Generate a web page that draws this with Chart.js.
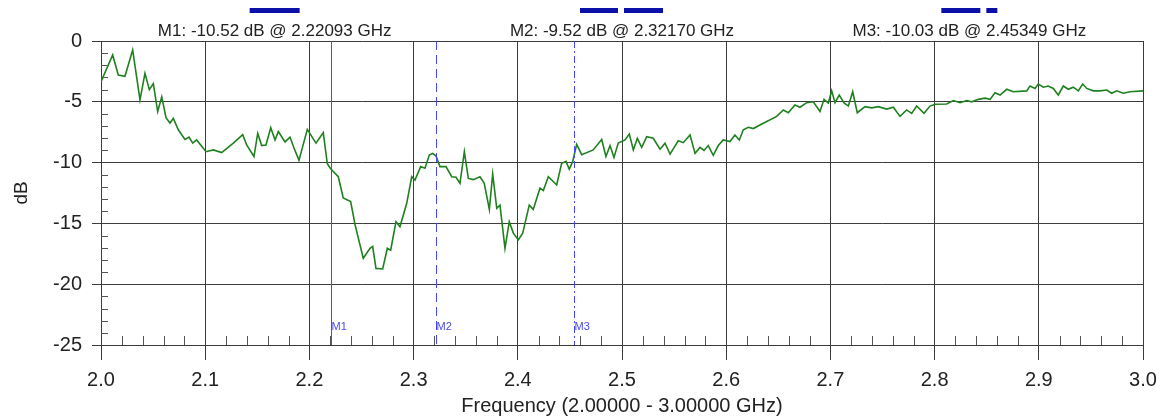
<!DOCTYPE html>
<html>
<head>
<meta charset="utf-8">
<script src="https://cdn.jsdelivr.net/npm/chart.js@4/dist/chart.umd.min.js"></script>
<style>
html,body{margin:0;padding:0;background:#fff;}
#wrap{width:1157px;height:418px;}
</style>
</head>
<body>
<div id="wrap"><canvas id="c" width="1157" height="418"></canvas></div>
<script>
// ---- data ----
const freqGHz = [2.000,2.0112,2.0166,2.0230,2.0304,2.0374,2.0422,2.0464,2.0502,2.0544,2.0583,2.0624,2.0662,2.0694,2.0742,2.0806,2.0845,2.0880,2.0918,2.1008,2.1078,2.1158,2.1270,2.1360,2.1398,2.1468,2.1504,2.1542,2.1583,2.1629,2.1670,2.1702,2.1766,2.1814,2.1852,2.1900,2.1980,2.2063,2.2133,2.2172,2.2204,2.2277,2.2325,2.2396,2.2438,2.2517,2.2582,2.2607,2.2639,2.2703,2.2748,2.2780,2.2831,2.2869,2.2934,2.2982,2.3013,2.3068,2.3109,2.3151,2.3183,2.3215,2.3253,2.3311,2.3366,2.3407,2.3445,2.3487,2.3525,2.3573,2.3637,2.3678,2.3727,2.3759,2.3798,2.3829,2.3877,2.3918,2.3957,2.4005,2.4047,2.4110,2.4148,2.4213,2.4245,2.4293,2.4325,2.4373,2.4421,2.4463,2.4494,2.4527,2.4565,2.4613,2.4724,2.4805,2.4846,2.4885,2.4923,2.4964,2.5029,2.5070,2.5109,2.5147,2.5189,2.5237,2.5300,2.5365,2.5413,2.5461,2.5540,2.5588,2.5653,2.5701,2.5749,2.5787,2.5828,2.5876,2.5924,2.5972,2.6036,2.6084,2.6126,2.6164,2.6212,2.6260,2.6356,2.6485,2.6548,2.6596,2.6660,2.6708,2.6773,2.6836,2.6900,2.6939,2.6980,2.7012,2.7044,2.7085,2.7131,2.7172,2.7214,2.7258,2.7332,2.7396,2.7460,2.7540,2.7604,2.7668,2.7732,2.7780,2.7828,2.7898,2.7956,2.8004,2.8116,2.8180,2.8244,2.8308,2.8356,2.8420,2.8484,2.8532,2.8580,2.8628,2.8692,2.8755,2.8884,2.8916,2.8964,2.8995,2.9043,2.9091,2.9139,2.9187,2.9235,2.9283,2.9331,2.9379,2.9421,2.9460,2.9523,2.9587,2.9652,2.9700,2.9748,2.9811,2.9875,3.000];
const s11dB = [-3.35,-1.15,-2.8,-2.9,-0.74,-4.85,-2.66,-4.0,-3.5,-5.8,-4.6,-6.3,-6.75,-6.36,-7.3,-8.1,-7.9,-8.4,-8.14,-9.1,-8.96,-9.18,-8.4,-7.7,-8.55,-9.5,-7.6,-8.6,-8.55,-7.13,-8.14,-7.45,-8.3,-7.9,-8.8,-9.8,-7.27,-8.4,-7.54,-10.1,-10.5,-11.16,-12.9,-13.2,-15.1,-17.87,-17.05,-16.9,-18.7,-18.75,-17.05,-17.2,-14.86,-15.27,-13.35,-11.16,-11.43,-10.33,-10.47,-9.38,-9.24,-9.46,-10.33,-10.33,-11.16,-11.2,-11.7,-9.1,-11.3,-11.4,-11.16,-11.7,-13.85,-10.94,-13.76,-13.5,-17.05,-14.86,-15.8,-16.36,-15.8,-13.5,-13.85,-12.1,-12.3,-11.16,-11.43,-11.84,-10.06,-9.9,-10.55,-9.9,-8.5,-9.35,-8.96,-8.1,-9.5,-8.6,-9.57,-8.4,-8.14,-7.65,-8.96,-8.0,-8.75,-7.87,-8.0,-8.9,-8.4,-9.3,-8.2,-8.36,-7.73,-9.24,-8.75,-9.0,-8.6,-9.4,-8.6,-8.14,-8.27,-7.73,-8.14,-7.3,-7.1,-7.2,-6.77,-6.2,-5.67,-5.9,-5.26,-5.45,-5.07,-5.0,-5.8,-4.8,-5.1,-4.1,-5.07,-4.44,-5.1,-5.35,-4.17,-5.9,-5.4,-5.5,-5.4,-5.6,-5.45,-6.2,-5.67,-5.95,-5.35,-5.95,-5.35,-5.2,-5.18,-4.9,-5.07,-4.9,-5.0,-4.8,-4.7,-4.8,-4.25,-4.44,-3.97,-4.17,-4.1,-3.7,-3.9,-3.54,-3.8,-3.7,-3.9,-4.44,-3.7,-3.97,-3.8,-4.1,-3.54,-3.9,-4.1,-4.1,-4.03,-4.3,-4.1,-4.3,-4.17,-4.1];
const markerNames = ["M1","M2","M3"];
const markerFreq = [2.22093, 2.32170, 2.45349];
const markerDb = [-10.52, -9.52, -10.03];
const xTickValues = [2.0,2.1,2.2,2.3,2.4,2.5,2.6,2.7,2.8,2.9,3.0];
const yTickValues = [0,-5,-10,-15,-20,-25];
const xAxisTitle = "Frequency (2.00000 - 3.00000 GHz)";
const yAxisTitle = "dB";

// ---- styles ----
const FONT = '"Liberation Sans", Arial, sans-serif';
const GRID = '#3c3c3c';
const MARK = '#4646ff';
const markerDash = [[], [9,5], [7,3,2,3]];
// decorative header bars, offsets from each label centre (px)
const headerBars = [[[-25,25]], [[-42,-4],[2,41]], [[-28,11],[17,28]]];

const minorPlugin = {
  id: 'minor',
  beforeDatasetsDraw(chart) {
    const {ctx, chartArea: a, scales: {x, y}} = chart;
    ctx.save();
    ctx.strokeStyle = '#555';
    ctx.lineWidth = 1;
    ctx.beginPath();
    for (let i = 1; i < 50; i++) {
      if (i % 5 === 0) continue;
      const px = Math.round(x.getPixelForValue(2 + i * 0.02)) + 0.5;
      ctx.moveTo(px, a.bottom); ctx.lineTo(px, a.bottom - 9);
    }
    for (let v = -24; v <= -1; v++) {
      if (v % 5 === 0) continue;
      const py = Math.round(y.getPixelForValue(v)) + 0.5;
      ctx.moveTo(a.left, py); ctx.lineTo(a.left + 7, py);
    }
    ctx.stroke();
    ctx.restore();
  },
  afterDatasetsDraw(chart) {
    const {ctx, chartArea: a, scales: {x}} = chart;
    ctx.save();
    markerFreq.forEach((f, i) => {
      const px = Math.round(x.getPixelForValue(f)) + 0.5;
      ctx.strokeStyle = MARK;
      ctx.lineWidth = 1;
      ctx.setLineDash(markerDash[i]);
      ctx.beginPath();
      ctx.moveTo(px, a.top); ctx.lineTo(px, a.bottom);
      ctx.stroke();
      ctx.setLineDash([]);
      ctx.fillStyle = '#4a4ae6';
      ctx.font = '11px ' + FONT;
      ctx.textAlign = 'left';
      ctx.textBaseline = 'alphabetic';
      ctx.fillText(markerNames[i], px, a.bottom - 15);
      // header labels
      const cx = a.left + (a.right - a.left) * (i + 0.5) / 3;
      ctx.fillStyle = '#222';
      ctx.font = '17px ' + FONT;
      ctx.textAlign = 'center';
      ctx.textBaseline = 'middle';
      ctx.fillText(`${markerNames[i]}: ${markerDb[i].toFixed(2)} dB @ ${f.toFixed(5)} GHz`, cx, a.top - 10);
      ctx.fillStyle = '#0b10a8';
      headerBars[i].forEach(([s, e]) => ctx.fillRect(cx + s, 8, e - s, 5));
    });
    ctx.restore();
  }
};

new Chart(document.getElementById('c'), {
  type: 'line',
  data: {
    datasets: [{
      data: freqGHz.map((f, i) => ({x: f, y: s11dB[i]})),
      borderColor: '#1f801f',
      borderWidth: 1.6,
      pointRadius: 0,
      tension: 0,
      fill: false
    }]
  },
  options: {
    responsive: false,
    animation: false,
    events: [],
    layout: {padding: {top: 41, right: 14, bottom: 0, left: 0}},
    plugins: {legend: {display: false}, tooltip: {enabled: false}},
    scales: {
      x: {
        type: 'linear', min: 2.0, max: 3.0,
        afterBuildTicks: s => { s.ticks = xTickValues.map(v => ({value: v})); },
        afterFit: s => { s.height = 73; s.paddingLeft = 0; s.paddingRight = 0; },
        ticks: {color: '#222', font: {family: FONT, size: 20}, padding: 8, autoSkip: false, maxRotation: 0,
          callback: v => v.toFixed(1)},
        grid: {color: GRID, lineWidth: 1, tickLength: 15, tickColor: GRID},
        border: {color: GRID},
        title: {display: true, text: xAxisTitle, color: '#222', font: {family: FONT, size: 20}, padding: {top: 0, bottom: 0}}
      },
      y: {
        min: -25, max: 0,
        afterBuildTicks: s => { s.ticks = yTickValues.map(v => ({value: v})); },
        afterFit: s => { s.width = 101; s.paddingTop = 0; s.paddingBottom = 0; },
        ticks: {color: '#222', font: {family: FONT, size: 20}, padding: 10},
        grid: {color: GRID, lineWidth: 1, tickLength: 9, tickColor: GRID},
        border: {color: GRID},
        title: {display: true, text: yAxisTitle, color: '#222', font: {family: FONT, size: 19}, padding: {top: 10, bottom: 0}}
      }
    }
  },
  plugins: [minorPlugin]
});
</script>
</body>
</html>
